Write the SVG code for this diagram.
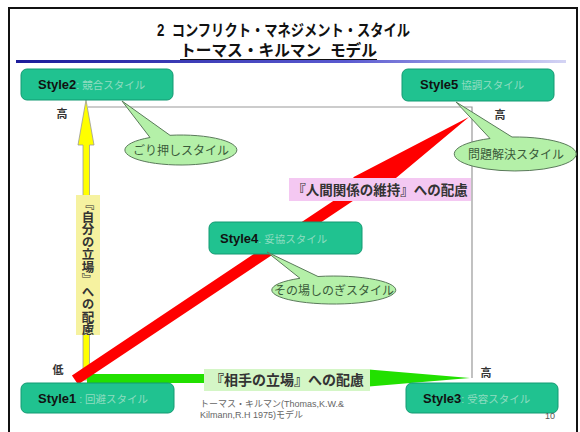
<svg xmlns="http://www.w3.org/2000/svg" width="580" height="432" viewBox="0 0 580 432">
<defs>
<linearGradient id="bl" x1="0" y1="0" x2="1" y2="0">
<stop offset="0" stop-color="#1c1c9a"/>
<stop offset="0.6" stop-color="#5a5ad0"/>
<stop offset="1" stop-color="#d4d4f4"/>
</linearGradient>
<style>
.jp{font-family:"Liberation Sans","Noto Sans CJK JP",sans-serif}
.box{fill:#20c290;stroke:#139a72;stroke-width:1}
.sn{font-family:"Liberation Sans","Noto Sans CJK JP",sans-serif;font-weight:bold;font-size:13px;fill:#111}
.sd{fill:#8fdcc0;font-weight:normal;font-size:10.5px}
.call{fill:#b4f0a8;stroke:#5a7a5a;stroke-width:1}
.ct{font-family:"Noto Sans CJK JP",sans-serif;font-size:12px;fill:#3a5a3a;text-anchor:middle}
.hl{font-family:"Noto Sans CJK JP",sans-serif;font-size:11px;font-weight:bold;fill:#333;text-anchor:middle}
</style>
</defs>
<rect x="0" y="0" width="580" height="432" fill="#fff"/>
<rect x="9" y="8" width="568" height="440" fill="none" stroke="#111" stroke-width="2"/>

<g id="title">
<text class="jp" x="157" y="36" font-size="16" font-weight="bold" fill="#111" textLength="253" lengthAdjust="spacingAndGlyphs" style="white-space:pre">2  コンフリクト・マネジメント・スタイル</text>
<text class="jp" x="180" y="56" font-size="16" font-weight="bold" fill="#111" textLength="197" lengthAdjust="spacingAndGlyphs" style="white-space:pre">トーマス・キルマン  モデル</text>
<line x1="180" y1="59.5" x2="377" y2="59.5" stroke="#111" stroke-width="1.2"/>
<rect x="16" y="60" width="550" height="3" fill="url(#bl)"/>
</g>

<g id="connectors">
<polyline points="88,107 472,107 472,378" fill="none" stroke="#999" stroke-width="1.2"/>
<polygon id="yellow-arrow" points="83,380 83,145 78,145 86,100 94,145 89.5,145 89.5,380" fill="#ffff00" stroke="#999" stroke-width="0.8"/>
<polygon id="green-arrow" points="87,374 363,374 363,369 470,378 363,387 363,383 87,383" fill="#22e000"/>
<polygon id="red-arrow" points="71.95,375.42 357.95,184.42 353.23,177.35 469,117 368.77,200.65 364.05,193.58 78.05,384.58" fill="#ff0000"/>
</g>

<g id="label-self">
<rect x="76" y="195" width="24" height="140" fill="#f6f2a0"/>
<text class="jp" x="88" y="198" font-size="12.5" font-weight="bold" fill="#333" style="writing-mode:vertical-rl;font-family:'Noto Sans CJK JP',sans-serif">『自分の立場』への配慮</text>
</g>
<g id="label-relation">
<rect x="289" y="178" width="182" height="23" fill="#f4c8f2"/>
<text x="380" y="195" font-size="13.5" fill="#333" text-anchor="middle" style="font-family:'Noto Sans CJK JP',sans-serif;font-weight:bold">『人間関係の維持』への配慮</text>
</g>
<g id="label-other">
<rect x="204" y="369" width="166" height="22" fill="#d4f6c6"/>
<text x="287" y="385" font-size="14" fill="#333" text-anchor="middle" style="font-family:'Noto Sans CJK JP',sans-serif;font-weight:bold">『相手の立場』への配慮</text>
</g>

<g id="style2">
<rect class="box" x="21" y="69" width="152" height="31" rx="6"/>
<text class="sn" x="38" y="89">Style2<tspan class="sd">: 競合スタイル</tspan></text>
</g>
<g id="style5">
<rect class="box" x="402" y="69" width="152" height="32" rx="6"/>
<text class="sn" x="420" y="89">Style5<tspan class="sd"> 協調スタイル</tspan></text>
</g>
<g id="style4">
<rect class="box" x="209" y="222" width="153" height="32" rx="6"/>
<text class="sn" x="220" y="243">Style4<tspan class="sd">. 妥協スタイル</tspan></text>
</g>
<g id="style1">
<rect class="box" x="21" y="383" width="153" height="30" rx="6"/>
<text class="sn" x="38" y="403">Style1<tspan class="sd"> : 回避スタイル</tspan></text>
</g>
<g id="style3">
<rect class="box" x="406" y="383" width="152" height="30" rx="6"/>
<text class="sn" x="423" y="403">Style3<tspan class="sd">: 受容スタイル</tspan></text>
</g>

<g id="callout-gorioshi">
<path class="call" d="M 170,135.3 L 122,101 L 150,137.5 A 56 15 0 1 0 170,135.3 Z"/>
<text class="ct" x="181" y="154.5">ごり押しスタイル</text>
</g>
<g id="callout-mondai">
<path class="call" d="M 512,137 L 456,102 L 490,138.5 A 61 17 0 1 0 512,137 Z"/>
<text class="ct" x="516" y="158.5">問題解決スタイル</text>
</g>
<g id="callout-sonoba">
<path class="call" d="M 318,276.5 L 267,252 L 300,278.3 A 62 14 0 1 0 318,276.5 Z"/>
<text class="ct" x="334" y="294.5">その場しのぎスタイル</text>
</g>

<g id="axis-labels">
<text class="hl" x="62" y="118">高</text>
<text class="hl" x="500" y="119">高</text>
<text class="hl" x="486" y="377">高</text>
<text class="hl" x="58" y="374">低</text>
</g>

<g id="footnote">
<text x="200" y="407" font-size="9" fill="#666" style="font-family:'Liberation Sans','Noto Sans CJK JP',sans-serif">トーマス・キルマン(Thomas,K.W.&amp;</text>
<text x="200" y="418" font-size="9" fill="#666" style="font-family:'Liberation Sans','Noto Sans CJK JP',sans-serif">Kilmann,R.H 1975)モデル</text>
<text x="550" y="419" font-size="9" fill="#555" text-anchor="middle" style="font-family:'Liberation Sans',sans-serif">10</text>
</g>
</svg>
